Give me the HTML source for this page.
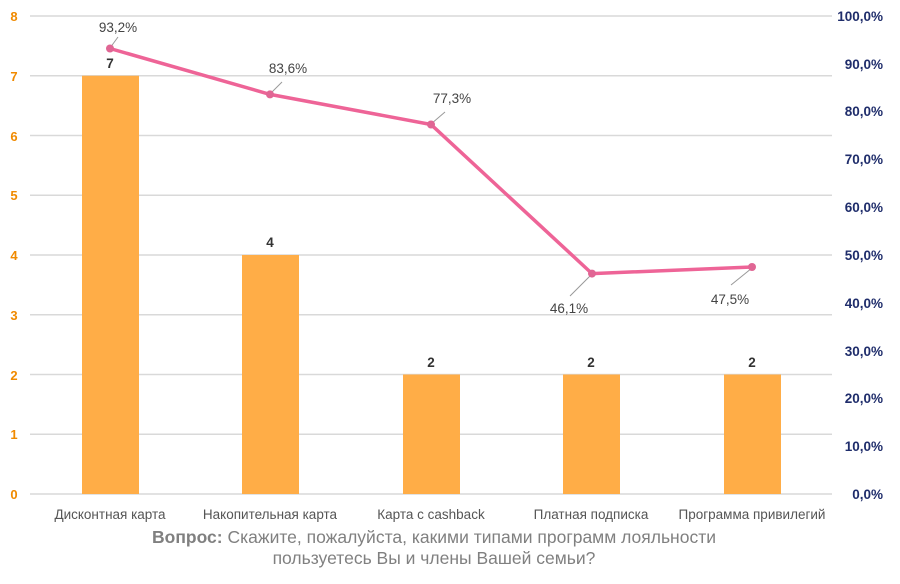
<!DOCTYPE html>
<html><head><meta charset="utf-8"><style>
body{margin:0;background:#fff;}
svg text{font-family:"Liberation Sans","DejaVu Sans",sans-serif;}
</style></head><body>
<svg width="900" height="579" xmlns="http://www.w3.org/2000/svg">
<g stroke="#d9d9d9" stroke-width="1.5">
<line x1="30" x2="832" y1="16" y2="16"/><line x1="30" x2="832" y1="75.75" y2="75.75"/>
<line x1="30" x2="832" y1="135.5" y2="135.5"/><line x1="30" x2="832" y1="195.25" y2="195.25"/>
<line x1="30" x2="832" y1="255" y2="255"/><line x1="30" x2="832" y1="314.75" y2="314.75"/>
<line x1="30" x2="832" y1="374.5" y2="374.5"/><line x1="30" x2="832" y1="434.25" y2="434.25"/>
<line x1="30" x2="832" y1="494" y2="494"/>
</g>
<g fill="#F08A00" font-size="13" font-weight="bold" text-anchor="middle">
<text x="14" y="21">8</text><text x="14" y="81">7</text><text x="14" y="141">6</text><text x="14" y="200">5</text><text x="14" y="260">4</text><text x="14" y="320">3</text><text x="14" y="380">2</text><text x="14" y="439">1</text><text x="14" y="499">0</text>
</g>
<g fill="#1F2D6B" font-size="13.5" font-weight="bold" text-anchor="end">
<text x="883" y="21">100,0%</text><text x="883" y="69">90,0%</text><text x="883" y="116">80,0%</text><text x="883" y="164">70,0%</text><text x="883" y="212">60,0%</text><text x="883" y="260">50,0%</text><text x="883" y="308">40,0%</text><text x="883" y="356">30,0%</text><text x="883" y="403">20,0%</text><text x="883" y="451">10,0%</text><text x="883" y="499">0,0%</text>
</g>
<g fill="#FFAD47">
<rect x="82" y="75.75" width="57" height="418.25"/>
<rect x="242" y="255" width="57" height="239"/>
<rect x="403" y="374.5" width="57" height="119.5"/>
<rect x="563" y="374.5" width="57" height="119.5"/>
<rect x="724" y="374.5" width="57" height="119.5"/>
</g>
<g fill="#333" font-size="13.5" font-weight="bold" text-anchor="middle">
<text x="110" y="68">7</text><text x="270" y="247">4</text><text x="431" y="367">2</text><text x="591" y="367">2</text><text x="752" y="367">2</text>
</g>
<g stroke="#999" stroke-width="1">
<line x1="110" y1="48" x2="118" y2="37"/><line x1="270" y1="94" x2="282" y2="82"/><line x1="431" y1="124" x2="445" y2="112"/>
<line x1="592" y1="274" x2="570" y2="296"/><line x1="752" y1="268" x2="731" y2="285"/>
</g>
<polyline points="110,48.5 270,94.4 431,124.5 592,273.6 752,267" fill="none" stroke="#EE6497" stroke-width="3.5" stroke-linejoin="round"/>
<g fill="#E06694"><circle cx="110" cy="48.5" r="4"/><circle cx="270" cy="94.4" r="4"/><circle cx="431" cy="124.5" r="4"/><circle cx="592" cy="273.6" r="4"/><circle cx="752" cy="267" r="4"/></g>
<g fill="#444" font-size="13.5" text-anchor="middle">
<text x="118" y="32">93,2%</text><text x="288" y="73">83,6%</text><text x="452" y="103">77,3%</text><text x="569" y="313">46,1%</text><text x="730" y="304">47,5%</text>
</g>
<g fill="#555" font-size="13.5" text-anchor="middle">
<text x="110" y="519">Дисконтная карта</text><text x="270" y="519">Накопительная карта</text><text x="431" y="519">Карта с cashback</text><text x="591" y="519">Платная подписка</text><text x="752" y="519">Программа привилегий</text>
</g>
<g fill="#808080" font-size="17.5" text-anchor="middle">
<text x="434" y="543"><tspan font-weight="bold">Вопрос:</tspan> Скажите, пожалуйста, какими типами программ лояльности</text>
<text x="434" y="564">пользуетесь Вы и члены Вашей семьи?</text>
</g>
</svg>
</body></html>
